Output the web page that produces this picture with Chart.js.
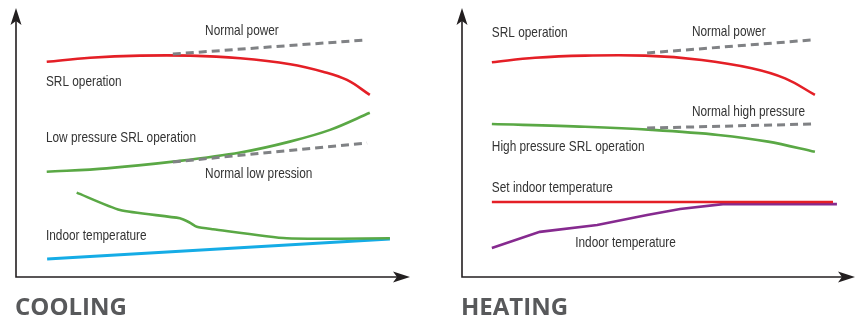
<!DOCTYPE html>
<html>
<head>
<meta charset="utf-8">
<script src="https://cdn.jsdelivr.net/npm/chart.js@4.4.1/dist/chart.umd.min.js"></script>
<style>
  body { margin: 0; background: #fff; width: 857px; height: 322px; position: relative; overflow: hidden; }
  canvas { position: absolute; top: 0; }
  #coolCanvas { left: 0; }
  #heatCanvas { left: 446px; }
  .mode { position: absolute; top: 294px; font-family: "Open Sans", sans-serif; font-weight: 700;
          font-size: 24px; line-height: 24px; color: #58595b; }
</style>
</head>
<body>
<canvas id="coolCanvas" width="430" height="322"></canvas>
<canvas id="heatCanvas" width="411" height="322"></canvas>
<div class="mode" style="left:15px">COOLING</div>
<div class="mode" style="left:461px">HEATING</div>
<script>
// both panels use a 0-100 scale on each axis (no units in the original)

// COOLING
const coolSrlX = [7.8, 18.8, 31.5, 44.2, 56.9, 69.6, 77.9, 84.0, 89.8];
const coolSrlY = [80.6, 82.1, 82.9, 82.9, 81.9, 79.7, 76.9, 73.8, 68.2];
const coolPowerX = [39.8, 89.1];
const coolPowerY = [83.5, 88.8];
const coolLowX = [7.8, 23.0, 39.9, 56.9, 69.5, 79.7, 89.8];
const coolLowY = [39.4, 40.7, 43.2, 46.6, 50.7, 55.1, 61.5];
const coolNormLowX = [39.8, 89.1];
const coolNormLowY = [43.1, 50.2];
const coolAirX = [15.4, 26.4, 41.6, 44.2, 45.9, 50.0, 68.7, 94.9];
const coolAirY = [31.6, 25.1, 22.0, 20.3, 18.8, 17.9, 14.5, 14.5];
const coolIndoorX = [7.9, 94.9];
const coolIndoorY = [6.7, 14.2];

// HEATING
const heatSrlX = [7.6, 18.6, 31.3, 46.6, 61.0, 73.7, 82.2, 89.8];
const heatSrlY = [80.4, 82.1, 82.9, 82.9, 81.3, 78.2, 74.4, 68.2];
const heatPowerX = [47.1, 89.3];
const heatPowerY = [83.9, 88.8];
const heatHighX = [7.6, 31.3, 48.3, 65.2, 77.9, 89.8];
const heatHighY = [57.3, 56.3, 55.1, 53.2, 50.7, 46.9];
const heatNormHighX = [47.1, 89.3];
const heatNormHighY = [55.8, 57.3];
const heatSetX = [7.6, 94.4];
const heatSetY = [28.1, 28.1];
const heatIndoorX = [7.6, 19.8, 34.4, 47.1, 55.5, 66.4, 95.4];
const heatIndoorY = [10.9, 16.9, 19.5, 23.2, 25.5, 27.3, 27.3];

// text labels: [text, x, y]
const coolLabels = [
  ["Normal power", 48.0, 92.1],
  ["SRL operation", 7.6, 73.0],
  ["Low pressure SRL operation", 7.6, 52.1],
  ["Normal low pression", 48.0, 38.6],
  ["Indoor temperature", 7.6, 15.4]
];
const heatLabels = [
  ["SRL operation", 7.6, 91.4],
  ["Normal power", 58.5, 91.8],
  ["Normal high pressure", 58.5, 61.8],
  ["High pressure SRL operation", 7.6, 48.7],
  ["Set indoor temperature", 7.6, 33.3],
  ["Indoor temperature", 28.8, 12.7]
];

const RED = "#e41f26", GREEN = "#5aa845", GREY = "#808285", BLUE = "#15ace6", PURPLE = "#862a8f";

function pts(xs, ys) {
  return xs.map((x, i) => ({ x: x, y: ys[i] }));
}

function line(xs, ys, color, width, tension, dashed, mono) {
  return {
    data: pts(xs, ys),
    borderColor: color,
    borderWidth: width,
    borderDash: dashed ? [8, 5] : [],
    tension: tension,
    cubicInterpolationMode: mono ? "monotone" : "default",
    pointRadius: 0,
    fill: false
  };
}

const axesPlugin = {
  id: "axes",
  beforeDatasetsDraw(chart) {
    const ctx = chart.ctx, a = chart.chartArea;
    ctx.save();
    ctx.strokeStyle = "#231f20";
    ctx.fillStyle = "#231f20";
    ctx.lineWidth = 1.6;
    ctx.beginPath();
    ctx.moveTo(a.left, a.top + 6);
    ctx.lineTo(a.left, a.bottom);
    ctx.lineTo(a.right - 6, a.bottom);
    ctx.stroke();
    // arrow heads
    ctx.beginPath();
    ctx.moveTo(a.left, a.top - 2);
    ctx.lineTo(a.left + 5.5, a.top + 15);
    ctx.lineTo(a.left, a.top + 11);
    ctx.lineTo(a.left - 5.5, a.top + 15);
    ctx.closePath();
    ctx.fill();
    ctx.beginPath();
    ctx.moveTo(a.right, a.bottom);
    ctx.lineTo(a.right - 17, a.bottom - 5.5);
    ctx.lineTo(a.right - 13, a.bottom);
    ctx.lineTo(a.right - 17, a.bottom + 5.5);
    ctx.closePath();
    ctx.fill();
    ctx.restore();
  }
};

// condensed look: Liberation Sans squeezed horizontally
const labelPlugin = {
  id: "lineLabels",
  afterDraw(chart, args, opts) {
    const ctx = chart.ctx, sx = chart.scales.x, sy = chart.scales.y;
    const squeeze = 0.8;
    ctx.save();
    ctx.font = '14.8px "Liberation Sans", Arial, sans-serif';
    ctx.fillStyle = "#333333";
    ctx.textBaseline = "middle";
    opts.items.forEach(l => {
      const px = sx.getPixelForValue(l[1]), py = sy.getPixelForValue(l[2]);
      ctx.save();
      ctx.translate(px, py);
      ctx.scale(squeeze, 1);
      ctx.fillText(l[0], 0, 0);
      ctx.restore();
    });
    ctx.restore();
  }
};

function makePanel(id, datasets, labels, padRight) {
  const canvas = document.getElementById(id);
  if (!canvas) {
    console.error("canvas not found: " + id);
    return;
  }
  new Chart(canvas.getContext("2d"), {
    type: "line",
    data: { datasets: datasets },
    options: {
      responsive: false,
      animation: false,
      devicePixelRatio: 1,
      layout: { padding: { left: 16, top: 10, right: padRight, bottom: 45 } },
      scales: {
        x: { type: "linear", min: 0, max: 100, display: false },
        y: { min: 0, max: 100, display: false }
      },
      plugins: {
        legend: { display: false },
        tooltip: { enabled: false },
        lineLabels: { items: labels }
      }
    },
    plugins: [axesPlugin, labelPlugin]
  });
}

makePanel("coolCanvas", [
  line(coolPowerX, coolPowerY, GREY, 3, 0, true),
  line(coolNormLowX, coolNormLowY, GREY, 3, 0, true),
  line(coolSrlX, coolSrlY, RED, 2.6, 0.4, false),
  line(coolLowX, coolLowY, GREEN, 2.6, 0.4, false, true),
  line(coolAirX, coolAirY, GREEN, 2.6, 0.2, false),
  line(coolIndoorX, coolIndoorY, BLUE, 3, 0, false)
], coolLabels, 20);

makePanel("heatCanvas", [
  line(heatPowerX, heatPowerY, GREY, 3, 0, true),
  line(heatNormHighX, heatNormHighY, GREY, 3, 0, true),
  line(heatSrlX, heatSrlY, RED, 2.6, 0.4, false),
  line(heatHighX, heatHighY, GREEN, 2.6, 0.4, false, true),
  line(heatSetX, heatSetY, RED, 2.6, 0, false),
  line(heatIndoorX, heatIndoorY, PURPLE, 2.6, 0, false)
], heatLabels, 2);
</script>
</body>
</html>
